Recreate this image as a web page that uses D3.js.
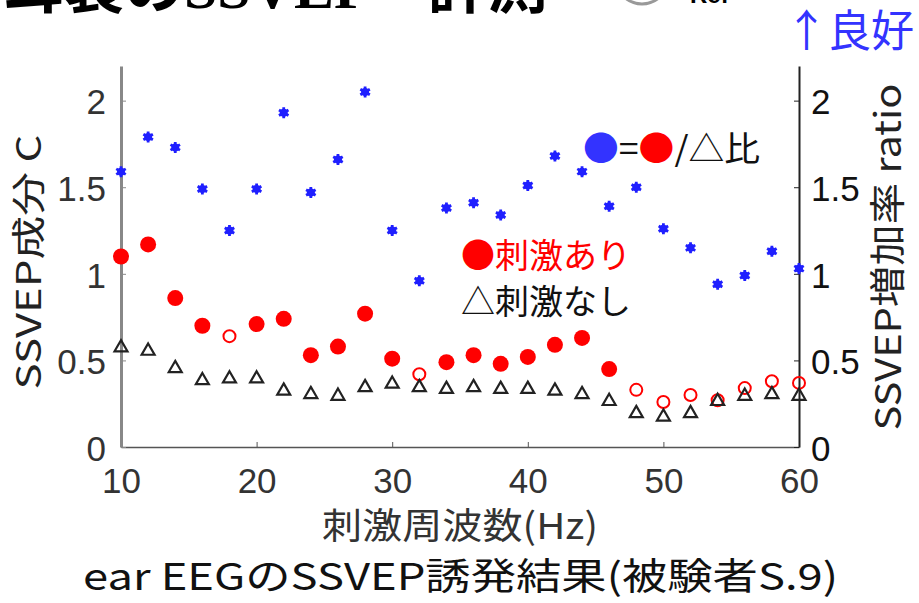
<!DOCTYPE html>
<html>
<head>
<meta charset="utf-8">
<script src="https://cdn.jsdelivr.net/npm/d3@7"></script>
<style>
  body { margin: 0; background: #fff; }
  svg { display: block; }
  text { font-family: "Liberation Sans", Arial, sans-serif; }
  .jp { font-family: "Noto Sans CJK JP", sans-serif; }
  .num { font-family: "Liberation Sans Narrow", "Liberation Sans", sans-serif; }
</style>
</head>
<body>
<svg id="chart"></svg>
<script>
// stimulus frequency (Hz)
const freqs = [10, 12, 14, 16, 18, 20, 22, 24, 26, 28, 30, 32, 34, 36, 38, 40, 42, 44, 46, 48, 50, 52, 54, 56, 58, 60]

// SSVEP component with stimulus (red circles)
const withStim = [1.10, 1.17, 0.86, 0.70, 0.64, 0.71, 0.74, 0.53, 0.58, 0.77, 0.51, 0.42, 0.49, 0.53, 0.48, 0.52, 0.59, 0.63, 0.45, 0.33, 0.26, 0.30, 0.27, 0.34, 0.38, 0.37]
// filled (true) or open (false) red marker
const withStimFilled = [true, true, true, true, false, true, true, true, true, true, true, false, true, true, true, true, true, true, true, false, false, false, false, false, false, false]

// SSVEP component without stimulus (triangles)
const noStim = [0.58, 0.56, 0.46, 0.39, 0.40, 0.40, 0.33, 0.31, 0.30, 0.35, 0.37, 0.35, 0.34, 0.35, 0.34, 0.34, 0.33, 0.31, 0.27, 0.20, 0.18, 0.20, 0.27, 0.30, 0.31, 0.30]

// SSVEP increase ratio (blue stars, right axis)
const ratio = [1.59, 1.79, 1.73, 1.49, 1.25, 1.49, 1.93, 1.47, 1.66, 2.05, 1.25, 0.96, 1.38, 1.41, 1.34, 1.51, 1.68, 1.59, 1.39, 1.50, 1.26, 1.15, 0.94, 0.99, 1.13, 1.03]

const xTicks = [10, 20, 30, 40, 50, 60]
const yTicks = [0, 0.5, 1, 1.5, 2]

const width = 919, height = 603
const plot = {left: 121, right: 799, top: 66, bottom: 447}

const blue = "#1f1fff", red = "#ff0000"

const svg = d3.select("#chart").attr("width", width).attr("height", height)

const x = d3.scaleLinear().domain([10, 60]).range([plot.left, plot.right])
const yL = d3.scaleLinear().domain([0, 2.2]).range([plot.bottom, plot.top])
const yR = d3.scaleLinear().domain([0, 2.2]).range([plot.bottom, plot.top])

// slide title, cut off at the top
svg.append("text")
	.attr("x", 4).attr("y", 8)
	.attr("font-size", 60).attr("font-weight", "bold")
	.style("font-family", "'Liberation Serif', 'Noto Sans CJK JP', serif")
	.text("耳装のSSVEP　計測")
svg.append("circle")
	.attr("cx", 642).attr("cy", -22).attr("r", 26)
	.attr("fill", "none").attr("stroke", "#999").attr("stroke-width", 3)
svg.append("text")
	.attr("x", 690).attr("y", 3)
	.attr("font-size", 24).attr("font-weight", "bold")
	.text("Ref")

// axes
const bottomAxis = d3.axisBottom(x).tickValues(xTicks).tickSizeInner(-5).tickSizeOuter(0).tickFormat(d3.format("d"))
const gx = svg.append("g").attr("transform", `translate(0,${plot.bottom})`).call(bottomAxis)
gx.select(".domain").attr("stroke", "#555").attr("stroke-width", 1.5)
gx.selectAll(".tick line").attr("stroke", "#555")
gx.selectAll(".tick text").attr("class", "num").attr("dy", 0).attr("y", 46)
	.attr("font-size", 35).attr("fill", "#333")

const leftAxis = d3.axisLeft(yL).tickValues(yTicks).tickSizeInner(-5).tickSizeOuter(0).tickFormat(d => d3.format("")(d))
const gl = svg.append("g").attr("transform", `translate(${plot.left},0)`).call(leftAxis)
gl.select(".domain").attr("stroke", "#888").attr("stroke-width", 3)
gl.selectAll(".tick line").attr("stroke", "#888")
gl.selectAll(".tick text").attr("class", "num").attr("x", -15).attr("dy", "0.38em")
	.attr("font-size", 35).attr("fill", "#333")

const rightAxis = d3.axisRight(yR).tickValues(yTicks).tickSizeInner(-5).tickSizeOuter(0).tickFormat(d => d3.format("")(d))
const gr = svg.append("g").attr("transform", `translate(${plot.right},0)`).call(rightAxis)
gr.select(".domain").attr("stroke", "#222").attr("stroke-width", 2)
gr.selectAll(".tick line").attr("stroke", "#222")
gr.selectAll(".tick text").attr("class", "num").attr("x", 12).attr("dy", "0.38em")
	.attr("font-size", 35).attr("fill", "#111")

// axis titles
svg.append("text").attr("class", "jp")
	.attr("transform", `translate(41,262) rotate(-90)`)
	.attr("text-anchor", "middle").attr("font-size", 34).attr("fill", "#222")
	.attr("textLength", 255).attr("lengthAdjust", "spacingAndGlyphs")
	.text("SSVEP成分 C")
svg.append("text").attr("class", "jp")
	.attr("transform", `translate(901,257) rotate(-90)`)
	.attr("text-anchor", "middle").attr("font-size", 36).attr("fill", "#222")
	.attr("textLength", 347).attr("lengthAdjust", "spacingAndGlyphs")
	.text("SSVEP増加率 ratio")
svg.append("text").attr("class", "jp")
	.attr("x", 460).attr("y", 539)
	.attr("text-anchor", "middle").attr("font-size", 36).attr("fill", "#333")
	.attr("textLength", 276).attr("lengthAdjust", "spacingAndGlyphs")
	.text("刺激周波数(Hz)")
svg.append("text").attr("class", "jp")
	.attr("x", 83).attr("y", 590)
	.attr("textLength", 755).attr("lengthAdjust", "spacingAndGlyphs")
	.attr("font-size", 37).attr("fill", "#111")
	.text("ear EEGのSSVEP誘発結果(被験者S.9)")

// "better" arrow
svg.append("text").attr("class", "jp")
	.attr("x", 785).attr("y", 47)
	.attr("font-size", 44).attr("fill", "#3333ff")
	.attr("textLength", 129).attr("lengthAdjust", "spacingAndGlyphs")
	.text("↑良好")

// data
const rows = freqs.map((f, i) => ({f, on: withStim[i], filled: withStimFilled[i], off: noStim[i], r: ratio[i]}))

// blue ratio stars
const star = d3.symbol(d3.symbolAsterisk, 85)
const stars = svg.append("g").selectAll("g")
	.data(rows)
	.join("g")
	.attr("transform", d => `translate(${x(d.f)},${yR(d.r)})`)
stars.append("circle").attr("r", 4).attr("fill", blue)
stars.append("path").attr("d", star).attr("stroke", blue).attr("stroke-width", 2.8).attr("fill", "none")

// red circles
svg.append("g").selectAll("circle")
	.data(rows)
	.join("circle")
	.attr("cx", d => x(d.f))
	.attr("cy", d => yL(d.on))
	.attr("r", d => d.filled ? 8 : 6)
	.attr("fill", d => d.filled ? red : "none")
	.attr("stroke", red)
	.attr("stroke-width", d => d.filled ? 0 : 2)

// triangles
const tri = d3.symbol(d3.symbolTriangle2, 120)
svg.append("g").selectAll("path")
	.data(rows)
	.join("path")
	.attr("transform", d => `translate(${x(d.f)},${yL(d.off) + 1})`)
	.attr("d", tri)
	.attr("fill", "none")
	.attr("stroke", "#222")
	.attr("stroke-width", 2.2)

// legends
const leg1 = svg.append("text").attr("class", "jp")
	.attr("x", 583).attr("y", 161).attr("font-size", 34)
	.attr("textLength", 177).attr("lengthAdjust", "spacingAndGlyphs")
leg1.append("tspan").attr("fill", "#3333ff").text("●")
leg1.append("tspan").attr("fill", "#111").text("=")
leg1.append("tspan").attr("fill", red).text("●")
leg1.append("tspan").attr("fill", "#111").text("/△比")

svg.append("text").attr("class", "jp")
	.attr("x", 461).attr("y", 268).attr("font-size", 34).attr("fill", red)
	.text("●刺激あり")
svg.append("text").attr("class", "jp")
	.attr("x", 461).attr("y", 314).attr("font-size", 34).attr("fill", "#111")
	.text("△刺激なし")
</script>
</body>
</html>
